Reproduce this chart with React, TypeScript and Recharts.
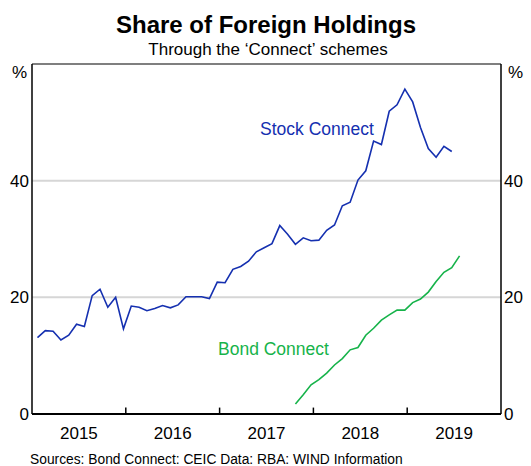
import { Line, LineChart, ReferenceLine, XAxis, YAxis } from "recharts";

// Share of foreign holdings through the 'Connect' schemes, monthly, per cent
const START_YEAR = 2015;

// Stock Connect, Jan 2015 – Jun 2019
const stockConnect = [
  13.1, 14.3, 14.2, 12.7, 13.5, 15.4, 15.0, 20.3, 21.4, 18.3, 20.0, 14.6,
  18.5, 18.3, 17.7, 18.1, 18.6, 18.2, 18.7, 20.1, 20.1, 20.1, 19.8, 22.6,
  22.5, 24.8, 25.3, 26.2, 27.8, 28.5, 29.2, 32.3, 30.8, 29.1, 30.2, 29.7,
  29.8, 31.5, 32.4, 35.7, 36.3, 40.1, 41.7, 46.8, 46.2, 51.9, 53.0, 55.7,
  53.5, 49.1, 45.5, 44.0, 45.9, 45.0,
];

// Bond Connect, Oct 2017 – Jul 2019
const BOND_START = 33;
const bondConnect = [
  1.7, 3.3, 5.0, 5.9, 7.0, 8.4, 9.5, 11.0, 11.4, 13.5, 14.7, 16.1,
  17.0, 17.8, 17.8, 19.1, 19.7, 20.9, 22.7, 24.3, 25.1, 27.1,
];

const yearBounds = [2016, 2017, 2018, 2019];
const yearLabels = [2015, 2016, 2017, 2018, 2019];
const yTicks = [0, 20, 40];
const gridLines = [20, 40];

const nMonths = Math.max(stockConnect.length, BOND_START + bondConnect.length);
const rows: { t: number; stock: number | null; bond: number | null }[] = [];
for (let i = 0; i < nMonths; i++) {
  rows.push({
    t: START_YEAR + (i + 0.7) / 12,
    stock: i < stockConnect.length ? stockConnect[i] : null,
    bond: i >= BOND_START ? bondConnect[i - BOND_START] : null,
  });
}

const FONT = "'Liberation Sans', Arial, sans-serif";
const BLUE = "#1530b0";
const GREEN = "#16b34a";
const tickStyle = { fontSize: 17, fill: "#000", fontFamily: FONT };

export default function App() {
  return (
    <div style={{ position: "absolute", left: 0, top: 0, width: 531, height: 466, background: "#fff", fontFamily: FONT }}>
      <LineChart
        width={531}
        height={466}
        data={rows}
        margin={{ top: 64, right: 0, bottom: 12, left: 2 }}
      >
        <XAxis
          dataKey="t"
          type="number"
          domain={[START_YEAR, 2020]}
          ticks={yearLabels.map((y) => y + 0.5)}
          tickFormatter={(v: number) => String(Math.floor(v))}
          height={40}
          tickSize={0}
          tickMargin={13}
          tick={tickStyle}
          axisLine={{ stroke: "#000", strokeWidth: 2 }}
          allowDataOverflow
        />
        <YAxis
          yAxisId="l"
          orientation="left"
          domain={[0, 60]}
          ticks={yTicks}
          width={30}
          tickSize={0}
          tickMargin={3}
          tick={tickStyle}
          axisLine={{ stroke: "#000", strokeWidth: 1.5 }}
          allowDataOverflow
        />
        <YAxis
          yAxisId="r"
          orientation="right"
          domain={[0, 60]}
          ticks={yTicks}
          width={30}
          tickSize={0}
          tickMargin={3}
          tick={tickStyle}
          axisLine={{ stroke: "#000", strokeWidth: 1.5 }}
          allowDataOverflow
        />
        {gridLines.map((g) => (
          <ReferenceLine key={g} yAxisId="l" y={g} stroke="#d6d6d6" strokeWidth={2} />
        ))}
        <ReferenceLine yAxisId="l" y={60} stroke="#555" strokeWidth={1.5} />
        {yearBounds.map((y) => (
          <ReferenceLine
            key={y}
            yAxisId="l"
            segment={[{ x: y, y: 0 }, { x: y, y: 1.1 }]}
            stroke="#000"
            strokeWidth={1.5}
          />
        ))}
        <Line
          yAxisId="l"
          dataKey="stock"
          stroke={BLUE}
          strokeWidth={1.6}
          dot={false}
          isAnimationActive={false}
        />
        <Line
          yAxisId="l"
          dataKey="bond"
          stroke={GREEN}
          strokeWidth={1.6}
          dot={false}
          isAnimationActive={false}
        />
      </LineChart>
      <svg
        width={531}
        height={466}
        style={{ position: "absolute", left: 0, top: 0, pointerEvents: "none" }}
        fontFamily={FONT}
      >
        <text x={266} y={33} textAnchor="middle" fontSize={24} fontWeight="bold" fill="#000">
          Share of Foreign Holdings
        </text>
        <text x={268} y={55} textAnchor="middle" fontSize={17} fill="#000">
          Through the ‘Connect’ schemes
        </text>
        <text x={12} y={78} fontSize={17} fill="#000">%</text>
        <text x={508} y={78} fontSize={17} fill="#000">%</text>
        <text x={260} y={135} fontSize={17.5} fill={BLUE}>Stock Connect</text>
        <text x={218} y={355} fontSize={17.5} fill={GREEN}>Bond Connect</text>
        <text x={30} y={464} fontSize={13.8} fill="#000">
          Sources: Bond Connect: CEIC Data: RBA: WIND Information
        </text>
      </svg>
    </div>
  );
}
